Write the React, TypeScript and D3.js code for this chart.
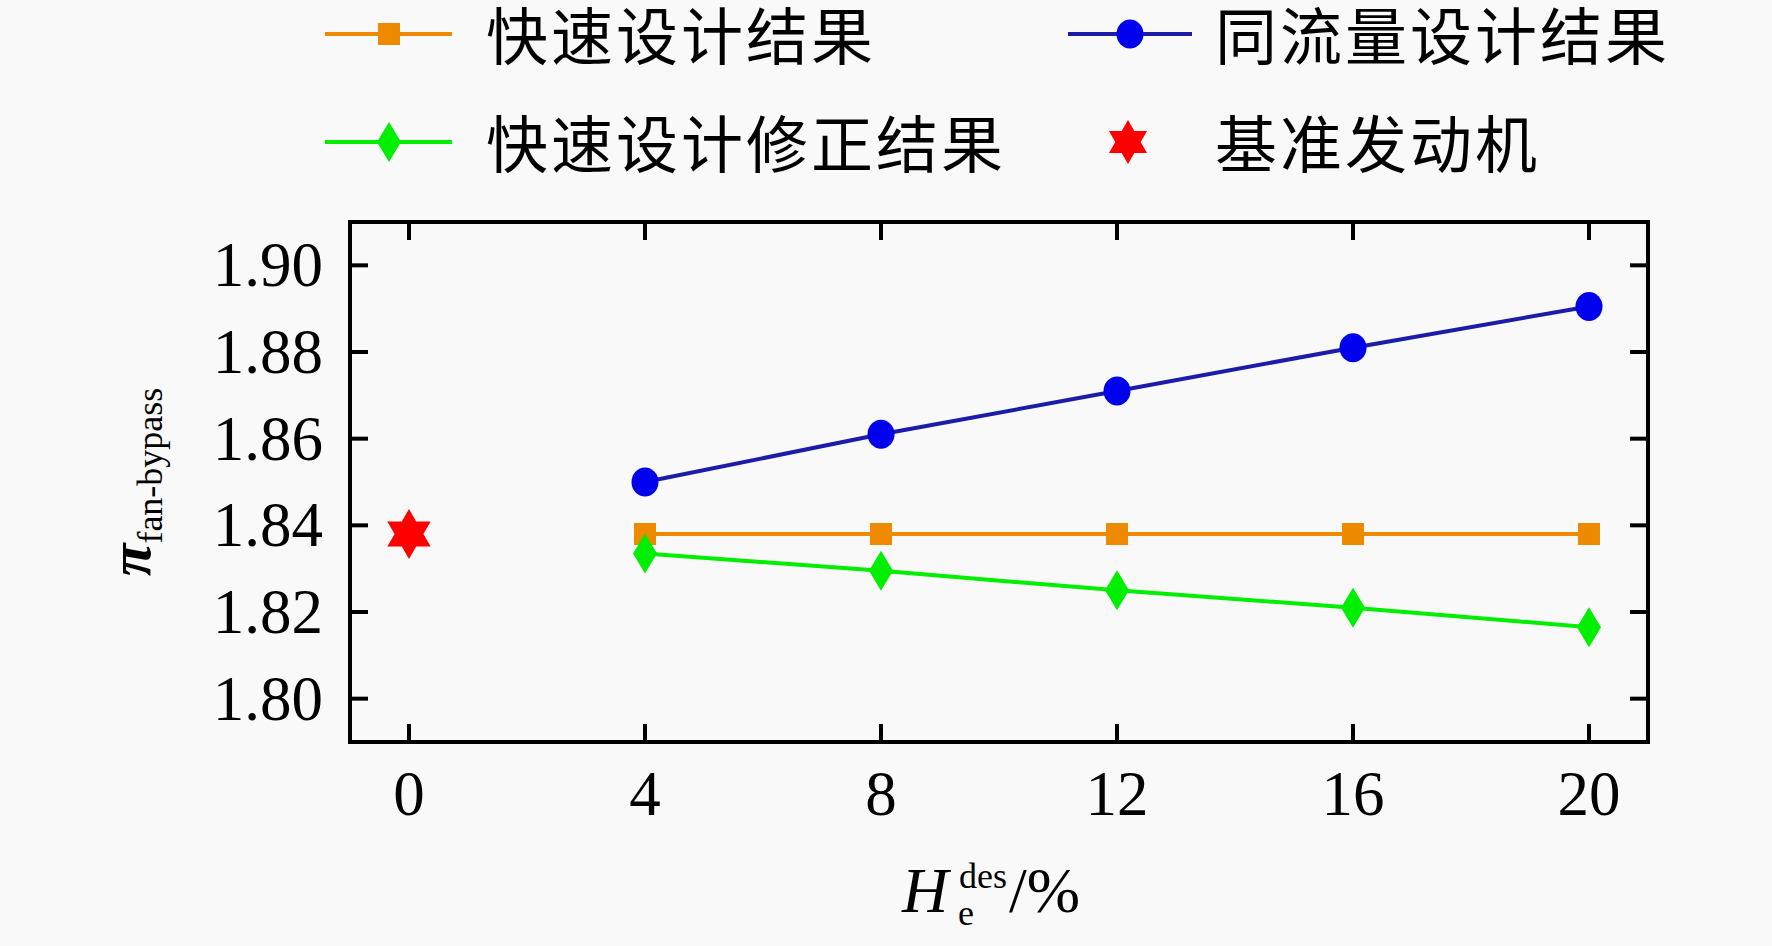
import React from "react";
import * as d3 from "d3";

// data
const xValues = [4, 8, 12, 16, 20];
const quickDesign = [1.838, 1.838, 1.838, 1.838, 1.838];
const sameFlowDesign = [1.85, 1.861, 1.871, 1.881, 1.8905];
const correctedDesign = [1.8335, 1.8295, 1.825, 1.821, 1.8165];
const baseEngineX = [0];
const baseEngineY = [1.838];

const xTicks = [0, 4, 8, 12, 16, 20];
const yTicks = [1.8, 1.82, 1.84, 1.86, 1.88, 1.9];

const legendLabels = ["快速设计结果", "同流量设计结果", "快速设计修正结果", "基准发动机"];

const W = 1772;
const H = 946;
const margin = { top: 222, right: 124, bottom: 204, left: 350 };
const innerW = W - margin.left - margin.right;
const innerH = H - margin.top - margin.bottom;

const ORANGE = "#ee8a00";
const BLUE_LINE = "#1c1ca8";
const BLUE = "#0000ee";
const GREEN = "#00ee00";
const RED = "#ff0000";
const SERIF = "'Liberation Serif', 'Times New Roman', serif";
const CJK = "'Noto Sans CJK SC', sans-serif";

// six pointed star
const hexagram = (r: number) => {
  const pts: [number, number][] = [];
  for (let i = 0; i < 12; i++) {
    const a = (Math.PI / 6) * i - Math.PI / 2;
    const rr = i % 2 === 0 ? r : r / Math.sqrt(3);
    pts.push([Math.cos(a) * rr, Math.sin(a) * rr]);
  }
  return "M" + pts.map((p) => p.join(",")).join("L") + "Z";
};

const Square = ({ x, y }: { x: number; y: number }) => (
  <rect x={x - 11} y={y - 11} width={22} height={22} fill={ORANGE} />
);
const Circle = ({ x, y }: { x: number; y: number }) => (
  <ellipse cx={x} cy={y} rx={13.5} ry={14.5} fill={BLUE} />
);
const Diamond = ({ x, y }: { x: number; y: number }) => (
  <path d={`M${x},${y - 20}L${x + 12},${y}L${x},${y + 20}L${x - 12},${y}Z`} fill={GREEN} />
);
const Star = ({ x, y, r }: { x: number; y: number; r: number }) => (
  <path d={hexagram(r)} transform={`translate(${x},${y})`} fill={RED} />
);

const App: React.FC = () => {
  const x = d3.scaleLinear().domain([-1, 21]).range([0, innerW]);
  const y = d3.scaleLinear().domain([1.79, 1.91]).range([innerH, 0]);

  const line = d3
    .line<number>()
    .x((_, i) => x(xValues[i]))
    .y((d) => y(d));

  const tickLen = 18;
  const cx = innerW / 2;

  return (
    <svg
      width={W}
      height={H}
      style={{ position: "absolute", left: 0, top: 0, background: "#f9f9f9" }}
    >
      {/* legend */}
      <g fontFamily={CJK} fontSize={62} letterSpacing={3} fill="#000">
        <line x1={325} x2={452} y1={34} y2={34} stroke={ORANGE} strokeWidth={4} />
        <Square x={389} y={34} />
        <text x={486} y={60}>{legendLabels[0]}</text>

        <line x1={1068} x2={1192} y1={34} y2={34} stroke={BLUE_LINE} strokeWidth={4} />
        <Circle x={1130} y={34} />
        <text x={1215} y={60}>{legendLabels[1]}</text>

        <line x1={325} x2={452} y1={142} y2={142} stroke={GREEN} strokeWidth={4} />
        <Diamond x={389} y={142} />
        <text x={486} y={168}>{legendLabels[2]}</text>

        <Star x={1128} y={142} r={22} />
        <text x={1215} y={168}>{legendLabels[3]}</text>
      </g>

      <g transform={`translate(${margin.left},${margin.top})`}>
        {/* series */}
        <path d={line(quickDesign) || ""} fill="none" stroke={ORANGE} strokeWidth={4} />
        <path d={line(correctedDesign) || ""} fill="none" stroke={GREEN} strokeWidth={4} />
        <path d={line(sameFlowDesign) || ""} fill="none" stroke={BLUE_LINE} strokeWidth={4} />
        {quickDesign.map((v, i) => (
          <Square key={"q" + i} x={x(xValues[i])} y={y(v)} />
        ))}
        {correctedDesign.map((v, i) => (
          <Diamond key={"c" + i} x={x(xValues[i])} y={y(v)} />
        ))}
        {sameFlowDesign.map((v, i) => (
          <Circle key={"s" + i} x={x(xValues[i])} y={y(v)} />
        ))}
        {baseEngineY.map((v, i) => (
          <Star key={"b" + i} x={x(baseEngineX[i])} y={y(v)} r={25} />
        ))}

        {/* frame and inward ticks */}
        <rect x={0} y={0} width={innerW} height={innerH} fill="none" stroke="#000" strokeWidth={4} />
        {xTicks.map((t) => (
          <g key={"xt" + t} stroke="#000" strokeWidth={4}>
            <line x1={x(t)} x2={x(t)} y1={innerH} y2={innerH - tickLen} />
            <line x1={x(t)} x2={x(t)} y1={0} y2={tickLen} />
          </g>
        ))}
        {yTicks.map((t) => (
          <g key={"yt" + t} stroke="#000" strokeWidth={4}>
            <line x1={0} x2={tickLen} y1={y(t)} y2={y(t)} />
            <line x1={innerW} x2={innerW - tickLen} y1={y(t)} y2={y(t)} />
          </g>
        ))}

        {/* tick labels */}
        <g fontFamily={SERIF} fontSize={63} fill="#000">
          {xTicks.map((t) => (
            <text key={"xl" + t} x={x(t)} y={innerH + 73} textAnchor="middle">
              {d3.format("d")(t)}
            </text>
          ))}
          {yTicks.map((t) => (
            <text key={"yl" + t} x={-27} y={y(t) + 21} textAnchor="end">
              {d3.format(".2f")(t)}
            </text>
          ))}
        </g>

        {/* x axis title */}
        <g fontFamily={SERIF} fill="#000">
          <text x={cx - 97} y={innerH + 170} fontSize={64} fontStyle="italic">H</text>
          <text x={cx - 40} y={innerH + 146} fontSize={36}>des</text>
          <text x={cx - 41} y={innerH + 183} fontSize={36}>e</text>
          <text x={cx + 10} y={innerH + 170} fontSize={64}>/%</text>
        </g>
      </g>

      {/* y axis title */}
      <text
        transform={`translate(150,${margin.top + innerH / 2}) rotate(-90)`}
        textAnchor="middle"
        fontFamily={SERIF}
        fill="#000"
      >
        <tspan fontSize={60} fontStyle="italic" fontWeight="bold">π</tspan>
        <tspan fontSize={36} dy={12}>fan-bypass</tspan>
      </text>
    </svg>
  );
};

export default App;
